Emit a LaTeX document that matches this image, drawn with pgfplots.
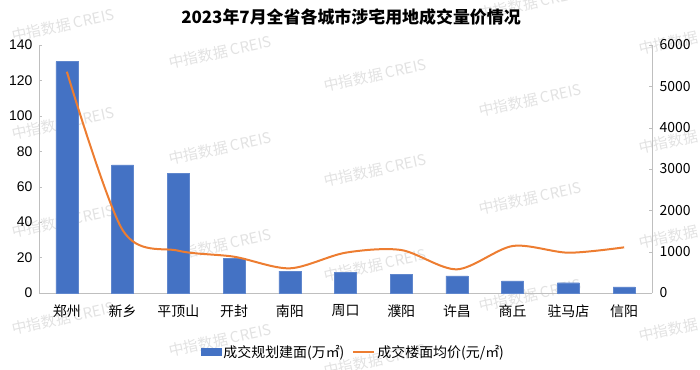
\documentclass[border=0pt]{standalone}
\usepackage{fontspec}
\setmainfont{Noto Sans CJK SC}
\newfontfamily\arial{Liberation Sans}
\usepackage{pgfplots}
\pgfplotsset{compat=1.18}
\definecolor{barblue}{HTML}{4472C4}
\definecolor{lineorange}{HTML}{ED7D31}
\definecolor{axgray}{HTML}{BFBFBF}
\definecolor{wm}{HTML}{E2E2E2}
\pgfplotsset{
  barleg/.style={legend image code/.code={\fill[barblue] (0bp,-3.5bp) rectangle (20bp,3.5bp);}},
  lineleg/.style={legend image code/.code={\draw[lineorange, line width=2bp] (0bp,0bp) -- (21bp,0bp);}},
}
\begin{document}
\begin{tikzpicture}[x=1bp,y=1bp]
\useasboundingbox (0,0) rectangle (700,369);
\foreach \x/\y in {63/344,63/246,63/148,63/51,220/317,220/221,220/124,220/29,375/294,375/199,375/104,375/9,530/366,530/269,530/171,530/74,690/331,690/232,690/137,690/44}
  \node[rotate=12, text=wm, font=\fontsize{15}{15}\selectfont] at (\x,\y) {中指数据 CREIS};
\node[font=\bfseries\fontsize{17}{17}\selectfont] at (351,352) {2023年7月全省各城市涉宅用地成交量价情况};
\begin{axis}[
  at={(39bp,76bp)}, anchor=south west, width=613bp, height=248bp, scale only axis,
  xmin=-0.5, xmax=10.5, ymin=0, ymax=140,
  ytick={0,20,...,140},
  xtick={0,...,10},
  xticklabels={郑州,新乡,平顶山,开封,南阳,周口,濮阳,许昌,商丘,驻马店,信阳},
  axis x line*=bottom, axis y line*=left,
  axis line style={draw=axgray,-},
  tick align=inside, major tick length=3bp,
  x tick style={draw=none}, y tick style={draw=axgray},
  /pgf/number format/assume math mode=true,
  yticklabel style={font=\arial\fontsize{14}{14}\selectfont, xshift=-3bp},
  xticklabel style={font=\fontsize{14}{14}\selectfont, yshift=-8bp},
  legend style={at={(0.513,-0.238)}, anchor=center, draw=none, fill=none,
    legend columns=2, font=\fontsize{14}{14}\selectfont,
    /tikz/every even column/.append style={column sep=6bp}},
  legend cell align=left,
]
\addplot[ybar, bar width=22bp, fill=barblue, draw=barblue!85!white, barleg]
  coordinates {(0,130.6) (1,72.3) (2,67.6) (3,19.6) (4,12.4) (5,11.5) (6,10.5) (7,9.6) (8,6.9) (9,5.8) (10,3.4)};
\addlegendentry{成交规划建面(万㎡)}
\addlegendimage{lineleg}
\addlegendentry{成交楼面均价(元/㎡)}
\end{axis}
\begin{axis}[
  at={(39bp,76bp)}, anchor=south west, width=613bp, height=248bp, scale only axis,
  xmin=-0.5, xmax=10.5, ymin=0, ymax=6000,
  ytick={0,1000,...,6000},
  scaled y ticks=false,
  axis y line*=right, axis x line=none,
  axis line style={draw=axgray,-},
  tick align=inside, major tick length=3bp,
  y tick style={draw=axgray},
  /pgf/number format/assume math mode=true,
  /pgf/number format/1000 sep={},
  yticklabel style={font=\fontsize{14}{14}\selectfont, xshift=4bp},
]
\addplot[lineorange, line width=2bp, smooth, tension=0.5]
  coordinates {(0,5353) (1,1524) (2,1023) (3,878) (4,597) (5,975) (6,1040) (7,573) (8,1137) (9,975) (10,1105)};
\end{axis}
\end{tikzpicture}
\end{document}
